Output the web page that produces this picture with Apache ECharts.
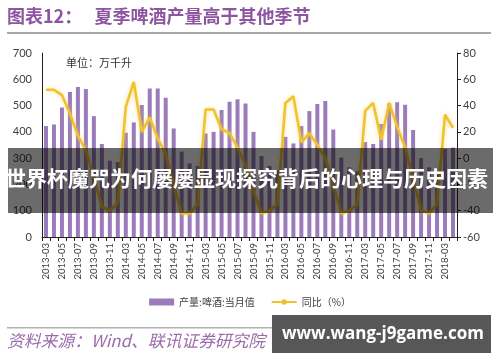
<!DOCTYPE html>
<html><head><meta charset="utf-8">
<script src="https://cdn.jsdelivr.net/npm/echarts@6/dist/echarts.min.js"></script>
<style>html,body{margin:0;padding:0;background:#fff}#c{width:500px;height:362px}</style>
</head><body><div id="c"></div>
<script>
const months = [
 '2013-03','2013-04','2013-05','2013-06','2013-07','2013-08','2013-09','2013-10','2013-11','2013-12',
 '2014-03','2014-04','2014-05','2014-06','2014-07','2014-08','2014-09','2014-10','2014-11','2014-12',
 '2015-03','2015-04','2015-05','2015-06','2015-07','2015-08','2015-09','2015-10','2015-11','2015-12',
 '2016-03','2016-04','2016-05','2016-06','2016-07','2016-08','2016-09','2016-10','2016-11','2016-12',
 '2017-03','2017-04','2017-05','2017-06','2017-07','2017-08','2017-09','2017-10','2017-11','2017-12',
 '2018-03','2018-04'];
const output = [
 422,428,493,552,571,563,460,354,290,285,
 397,436,502,565,565,530,413,325,280,270,
 394,400,483,515,524,508,400,308,270,255,
 381,356,422,479,506,517,409,302,265,250,
 361,354,430,508,513,503,407,300,265,245,
 335,340];
const yoy = [
 52,52,48,34,17,6,-15,-37,-40,-34,
 39,58,20,31,15,3,-20,-42,-42,-35,
 37,37,22,19,8,-5,-25,-42,-40,-35,
 42,47,12,19,10,0,-20,-42,-40,-35,
 36,42,14,42,24,8,-15,-40,-42,-35,
 33,23];
const leftTicks = [0,100,200,300,400,500,600,700];
const rightTicks = [-60,-40,-20,0,20,40,60,80];
const titleText = '图表12：   夏季啤酒产量高于其他季节';
const unitText = '单位：万千升';
const sourceText = '资料来源：Wind、联讯证券研究院';
const bannerText = '世界杯魔咒为何屡屡显现探究背后的心理与历史因素';
const watermarkText = 'www.wang-j9game.com';

const chart = echarts.init(document.getElementById('c'), null, {renderer:'canvas'});
const tickFont = {fontFamily:'Lato, "Open Sans", sans-serif', fontSize:11, color:'#404040'};
chart.setOption({
  animation:false,
  grid:{left:42, right:43, top:53, bottom:125, containLabel:false},
  legend:{
    bottom:50, left:'center', itemWidth:25, itemHeight:7, itemGap:16,
    textStyle:{fontFamily:'"Noto Sans CJK SC", sans-serif', fontSize:10, color:'#404040'},
    data:[{name:'产量:啤酒:当月值', icon:'rect'}, {name:'同比（%）'}]
  },
  xAxis:{
    type:'category', data:months, boundaryGap:true,
    axisLine:{lineStyle:{color:'#222', width:1}},
    axisTick:{show:true, interval:0, length:4, lineStyle:{color:'#222'}},
    axisLabel:{interval:1, rotate:90, margin:6, fontFamily:'Lato, "Open Sans", sans-serif', fontSize:9.5, color:'#404040'}
  },
  yAxis:[
    {type:'value', min:leftTicks[0], max:leftTicks[leftTicks.length-1], interval:100, position:'left',
     axisLine:{show:true, lineStyle:{color:'#222'}}, axisTick:{show:false}, splitLine:{show:false},
     axisLabel:Object.assign({margin:10}, tickFont)},
    {type:'value', min:rightTicks[0], max:rightTicks[rightTicks.length-1], interval:20, position:'right',
     axisLine:{show:true, lineStyle:{color:'#222'}}, axisTick:{show:true, length:4, lineStyle:{color:'#222'}}, splitLine:{show:false},
     axisLabel:Object.assign({margin:6}, tickFont)}
  ],
  series:[
    {name:'产量:啤酒:当月值', type:'bar', data:output, barWidth:'50%', itemStyle:{color:'#9b7cba'}, yAxisIndex:0},
    {name:'同比（%）', type:'line', data:yoy, yAxisIndex:1, symbol:'none', z:5,
     lineStyle:{color:'#f2c12e', width:2.6, shadowColor:'rgba(245,210,80,0.6)', shadowBlur:4},
     itemStyle:{color:'#f2c12e'}}
  ],
  graphic:[
    {type:'text', left:7, top:7, style:{text:titleText, fontSize:18, fontWeight:'bold', fill:'#8d54a0', fontFamily:'"Noto Sans CJK SC", sans-serif'}},
    {type:'rect', shape:{x:7, y:32, width:484, height:2}, style:{fill:'#a8a8a8'}},
    {type:'text', left:66, top:57, style:{text:unitText, fontSize:11, fill:'#333', fontFamily:'"Noto Sans CJK SC", sans-serif'}},
    {type:'rect', shape:{x:7, y:327, width:484, height:1.5}, style:{fill:'#b0b0b0'}},
    {type:'text', left:7, top:332, style:{text:sourceText, fontSize:16.8, fontStyle:'italic', fill:'#9c6cab', fontFamily:'"Noto Sans CJK SC", sans-serif'}},
    {type:'rect', z:100, shape:{x:8, y:148, width:485, height:65}, style:{fill:'rgba(0,0,0,0.58)'}},
    {type:'text', z:101, left:5, top:168, style:{text:bannerText, fontSize:21, fontWeight:'bold', fill:'#fff', fontFamily:'"Noto Sans CJK SC", sans-serif'}},
    {type:'rect', z:100, shape:{x:272, y:315, width:219, height:38}, style:{fill:'#575757'}},
    {type:'text', z:101, left:282, top:326, style:{text:watermarkText, fontSize:17, fontWeight:'bold', fill:'#fff', fontFamily:'"Open Sans", "DejaVu Sans", sans-serif'}}
  ]
});
</script></body></html>
